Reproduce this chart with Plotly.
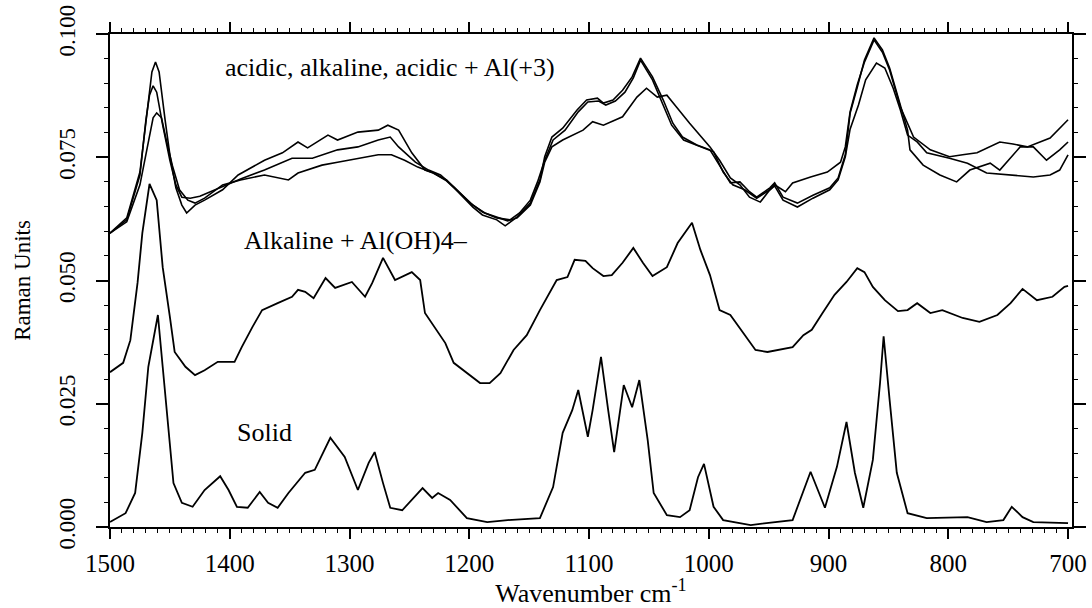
import plotly.graph_objects as go

# ---- data ----
solid_wn = [1500, 1487, 1479, 1473, 1468, 1462, 1460, 1456, 1451, 1447, 1440, 1431, 1421, 1408, 1401,
            1394, 1385, 1375, 1368, 1360, 1351, 1337, 1329, 1316, 1304, 1293, 1284, 1279, 1272, 1266,
            1256, 1239, 1231, 1226, 1216, 1202, 1185, 1168, 1141, 1130, 1122, 1114, 1109, 1101, 1097,
            1090, 1084, 1079, 1076, 1071, 1064, 1058, 1051, 1046, 1035, 1024, 1016, 1009, 1004, 996,
            988, 965, 930, 924, 915, 903, 893, 885, 878, 871, 863, 857, 854, 849, 843, 834, 818, 784,
            768, 754, 747, 738, 729, 700]
solid_val = [0.0010, 0.0028, 0.0069, 0.0191, 0.0325, 0.0406, 0.0430, 0.0325, 0.0191, 0.0089, 0.0049,
             0.0041, 0.0075, 0.0103, 0.0075, 0.0041, 0.0039, 0.0071, 0.0049, 0.0039, 0.0069, 0.0110,
             0.0116, 0.0181, 0.0142, 0.0075, 0.0130, 0.0152, 0.0089, 0.0039, 0.0034, 0.0079, 0.0059,
             0.0069, 0.0055, 0.0018, 0.0010, 0.0014, 0.0018, 0.0081, 0.0191, 0.0237, 0.0278, 0.0183,
             0.0237, 0.0345, 0.0237, 0.0152, 0.0203, 0.0288, 0.0243, 0.0298, 0.0176, 0.0069, 0.0024,
             0.0020, 0.0034, 0.0101, 0.0128, 0.0041, 0.0014, 0.0004, 0.0014, 0.0055, 0.0112, 0.0039,
             0.0122, 0.0213, 0.0110, 0.0039, 0.0136, 0.0292, 0.0387, 0.0258, 0.0110, 0.0028, 0.0018,
             0.0020, 0.0010, 0.0014, 0.0041, 0.0020, 0.0010, 0.0008]

alk_al_wn = [1500, 1489, 1483, 1477, 1473, 1467, 1461, 1456, 1450, 1446, 1437, 1429, 1421, 1410, 1396,
             1390, 1381, 1373, 1360, 1348, 1343, 1337, 1330, 1320, 1312, 1298, 1287, 1281, 1272, 1262,
             1248, 1241, 1237, 1229, 1220, 1213, 1202, 1191, 1183, 1174, 1163, 1152, 1141, 1127, 1118,
             1112, 1103, 1097, 1088, 1081, 1072, 1063, 1055, 1047, 1035, 1026, 1014, 1007, 999, 991,
             982, 971, 961, 951, 930, 921, 914, 905, 895, 885, 876, 870, 863, 853, 842, 834, 826, 815,
             805, 788, 774, 759, 748, 738, 726, 713, 703, 700]
alk_al_val = [0.0314, 0.0333, 0.0379, 0.0495, 0.0596, 0.0696, 0.0663, 0.0527, 0.0426, 0.0355, 0.0325,
              0.0308, 0.0318, 0.0335, 0.0335, 0.0365, 0.0406, 0.0440, 0.0454, 0.0467, 0.0481, 0.0477,
              0.0464, 0.0505, 0.0485, 0.0497, 0.0467, 0.0495, 0.0546, 0.0501, 0.0517, 0.0501, 0.0434,
              0.0406, 0.0373, 0.0333, 0.0312, 0.0292, 0.0292, 0.0312, 0.0359, 0.0389, 0.0440, 0.0501,
              0.0507, 0.0542, 0.0540, 0.0525, 0.0509, 0.0511, 0.0536, 0.0566, 0.0536, 0.0509, 0.0527,
              0.0576, 0.0617, 0.0562, 0.0511, 0.0440, 0.0430, 0.0394, 0.0359, 0.0355, 0.0365, 0.0389,
              0.0400, 0.0434, 0.0471, 0.0497, 0.0525, 0.0517, 0.0487, 0.0460, 0.0438, 0.0440, 0.0454,
              0.0434, 0.0440, 0.0424, 0.0416, 0.0430, 0.0454, 0.0483, 0.0460, 0.0467, 0.0487, 0.0489]

top1_wn = [1500, 1486, 1475, 1469, 1465, 1462, 1459, 1454, 1450, 1445, 1440, 1436, 1429, 1421, 1406,
           1393, 1371, 1356, 1343, 1335, 1318, 1310, 1293, 1276, 1268, 1259, 1248, 1237, 1230, 1219,
           1205, 1197, 1189, 1177, 1170, 1160, 1149, 1141, 1137, 1131, 1122, 1110, 1102, 1093, 1088,
           1080, 1072, 1064, 1057, 1047, 1038, 1030, 1022, 1010, 999, 991, 982, 974, 966, 960, 949,
           945, 938, 926, 913, 899, 892, 886, 882, 876, 870, 862, 855, 849, 840, 834, 832, 821, 807,
           793, 782, 765, 757, 740, 729, 718, 707, 700]
top1_val = [0.0596, 0.0627, 0.0720, 0.0846, 0.0923, 0.0943, 0.0923, 0.0826, 0.0755, 0.0688, 0.0653,
            0.0637, 0.0653, 0.0663, 0.0684, 0.0714, 0.0744, 0.0759, 0.0781, 0.0769, 0.0795, 0.0785,
            0.0801, 0.0805, 0.0815, 0.0805, 0.0759, 0.0724, 0.0718, 0.0704, 0.0669, 0.0649, 0.0633,
            0.0623, 0.0611, 0.0629, 0.0657, 0.0704, 0.0751, 0.0791, 0.0809, 0.0846, 0.0866, 0.0870,
            0.0860, 0.0866, 0.0886, 0.0913, 0.0951, 0.0913, 0.0866, 0.0819, 0.0791, 0.0775, 0.0765,
            0.0734, 0.0698, 0.0700, 0.0680, 0.0669, 0.0688, 0.0698, 0.0669, 0.0657, 0.0673, 0.0688,
            0.0708, 0.0755, 0.0839, 0.0892, 0.0947, 0.0992, 0.0968, 0.0931, 0.0856, 0.0805, 0.0765,
            0.0734, 0.0714, 0.0700, 0.0724, 0.0738, 0.0724, 0.0771, 0.0771, 0.0744, 0.0765, 0.0781]

top2_wn = [1500, 1486, 1475, 1470, 1467, 1464, 1461, 1456, 1450, 1445, 1440, 1433, 1425, 1406, 1391,
           1371, 1348, 1331, 1310, 1293, 1276, 1266, 1259, 1245, 1234, 1224, 1212, 1199, 1189, 1177,
           1166, 1158, 1149, 1143, 1137, 1130, 1120, 1109, 1101, 1092, 1086, 1078, 1070, 1063, 1057,
           1047, 1039, 1031, 1021, 1007, 996, 988, 980, 970, 960, 949, 945, 936, 930, 915, 901, 890,
           886, 882, 876, 870, 862, 855, 849, 840, 829, 815, 799, 788, 776, 757, 746, 734, 715, 700]
top2_val = [0.0596, 0.0623, 0.0714, 0.0826, 0.0876, 0.0895, 0.0882, 0.0815, 0.0744, 0.0694, 0.0669,
            0.0667, 0.0671, 0.0690, 0.0706, 0.0724, 0.0748, 0.0748, 0.0765, 0.0771, 0.0785, 0.0791,
            0.0771, 0.0740, 0.0724, 0.0714, 0.0688, 0.0657, 0.0639, 0.0627, 0.0623, 0.0637, 0.0663,
            0.0700, 0.0744, 0.0785, 0.0805, 0.0842, 0.0862, 0.0864, 0.0856, 0.0864, 0.0882, 0.0911,
            0.0947, 0.0907, 0.0862, 0.0815, 0.0785, 0.0771, 0.0761, 0.0720, 0.0694, 0.0684, 0.0667,
            0.0684, 0.0694, 0.0680, 0.0698, 0.0710, 0.0720, 0.0740, 0.0771, 0.0842, 0.0897, 0.0943,
            0.0988, 0.0963, 0.0927, 0.0852, 0.0791, 0.0765, 0.0751, 0.0755, 0.0759, 0.0781, 0.0777,
            0.0771, 0.0789, 0.0826]

top3_wn = [1500, 1486, 1475, 1468, 1464, 1461, 1457, 1453, 1448, 1442, 1435, 1429, 1421, 1406, 1391,
           1371, 1351, 1343, 1323, 1310, 1293, 1276, 1265, 1254, 1243, 1230, 1219, 1205, 1197, 1187,
           1177, 1168, 1160, 1149, 1141, 1137, 1131, 1122, 1105, 1097, 1088, 1072, 1060, 1052, 1043,
           1035, 1027, 1016, 999, 991, 982, 974, 966, 957, 949, 945, 938, 926, 913, 899, 892, 886,
           882, 875, 869, 860, 853, 846, 840, 834, 826, 818, 799, 784, 768, 748, 729, 715, 707, 700]
top3_val = [0.0596, 0.0619, 0.0694, 0.0785, 0.0830, 0.0840, 0.0830, 0.0785, 0.0734, 0.0684, 0.0663,
            0.0657, 0.0667, 0.0694, 0.0704, 0.0714, 0.0704, 0.0718, 0.0734, 0.0740, 0.0748, 0.0755,
            0.0755, 0.0744, 0.0730, 0.0718, 0.0702, 0.0671, 0.0653, 0.0637, 0.0629, 0.0621, 0.0627,
            0.0653, 0.0700, 0.0740, 0.0771, 0.0785, 0.0805, 0.0822, 0.0815, 0.0832, 0.0872, 0.0890,
            0.0872, 0.0876, 0.0852, 0.0819, 0.0771, 0.0744, 0.0708, 0.0694, 0.0669, 0.0659, 0.0684,
            0.0692, 0.0663, 0.0649, 0.0667, 0.0684, 0.0704, 0.0751, 0.0807, 0.0856, 0.0907, 0.0941,
            0.0931, 0.0890, 0.0846, 0.0795, 0.0781, 0.0759, 0.0748, 0.0738, 0.0718, 0.0714, 0.0710,
            0.0714, 0.0724, 0.0755]

x_ticks = [1500, 1400, 1300, 1200, 1100, 1000, 900, 800, 700]
x_tick_text = ["1500", "1400", "1300", "1200", "1100", "1000", "900", "800", "700"]
y_ticks = [0.0, 0.025, 0.05, 0.075, 0.1]
y_tick_text = ["0.000", "0.025", "0.050", "0.075", "0.100"]

labels = [
    ("acidic, alkaline, acidic + Al(+3)", 1406, 0.0933),
    ("Alkaline + Al(OH)4–", 1390, 0.0582),
    ("Solid", 1396, 0.0191),
]

FONT = "Liberation Serif"

fig = go.Figure()
series = [
    (top1_wn, top1_val, 1.6),
    (top2_wn, top2_val, 1.6),
    (top3_wn, top3_val, 1.6),
    (alk_al_wn, alk_al_val, 1.8),
    (solid_wn, solid_val, 1.8),
]
for xs, ys, w in series:
    fig.add_trace(go.Scatter(x=xs, y=ys, mode="lines",
                             line=dict(color="black", width=w),
                             showlegend=False, hoverinfo="skip"))

for text, xv, yv in labels:
    fig.add_annotation(x=xv, y=yv, text=text, showarrow=False, xanchor="left",
                       yanchor="middle", font=dict(family=FONT, size=26, color="black"))

fig.update_layout(
    width=1092, height=608,
    margin=dict(l=110, r=20, t=34, b=81),
    plot_bgcolor="white", paper_bgcolor="white",
    font=dict(family=FONT, color="black"),
)
fig.update_xaxes(
    range=[1500, 696.7], showgrid=False, zeroline=False, automargin=False,
    showline=True, linecolor="black", linewidth=2, mirror="ticks",
    ticks="outside", ticklen=10, tickwidth=1.5, tickcolor="black",
    tickvals=x_ticks, ticktext=x_tick_text,
    tickfont=dict(family=FONT, size=25, color="black"),
    ticklabelstandoff=3,
    minor=dict(dtick=10, ticklen=4, tickcolor="black", tickwidth=1, ticks="outside"),
    title=dict(text="Wavenumber cm<sup>-1</sup>", standoff=2,
               font=dict(family=FONT, size=26, color="black")),
)
fig.update_yaxes(
    range=[0, 0.1], showgrid=False, zeroline=False, automargin=False,
    showline=True, linecolor="black", linewidth=2, mirror="ticks",
    ticks="outside", ticklen=12, tickwidth=1.5, tickcolor="black",
    tickvals=y_ticks, ticktext=y_tick_text, tickangle=-90,
    tickfont=dict(family=FONT, size=23, color="black"),
    ticklabelstandoff=12,
    minor=dict(dtick=0.005, ticklen=4, tickcolor="black", tickwidth=1, ticks="outside"),
    title=dict(text="Raman Units", standoff=18,
               font=dict(family=FONT, size=23, color="black")),
)

fig.write_html("out.html", config={"displayModeBar": False},
               post_script="document.body.style.margin='0';document.body.style.padding='0';")
